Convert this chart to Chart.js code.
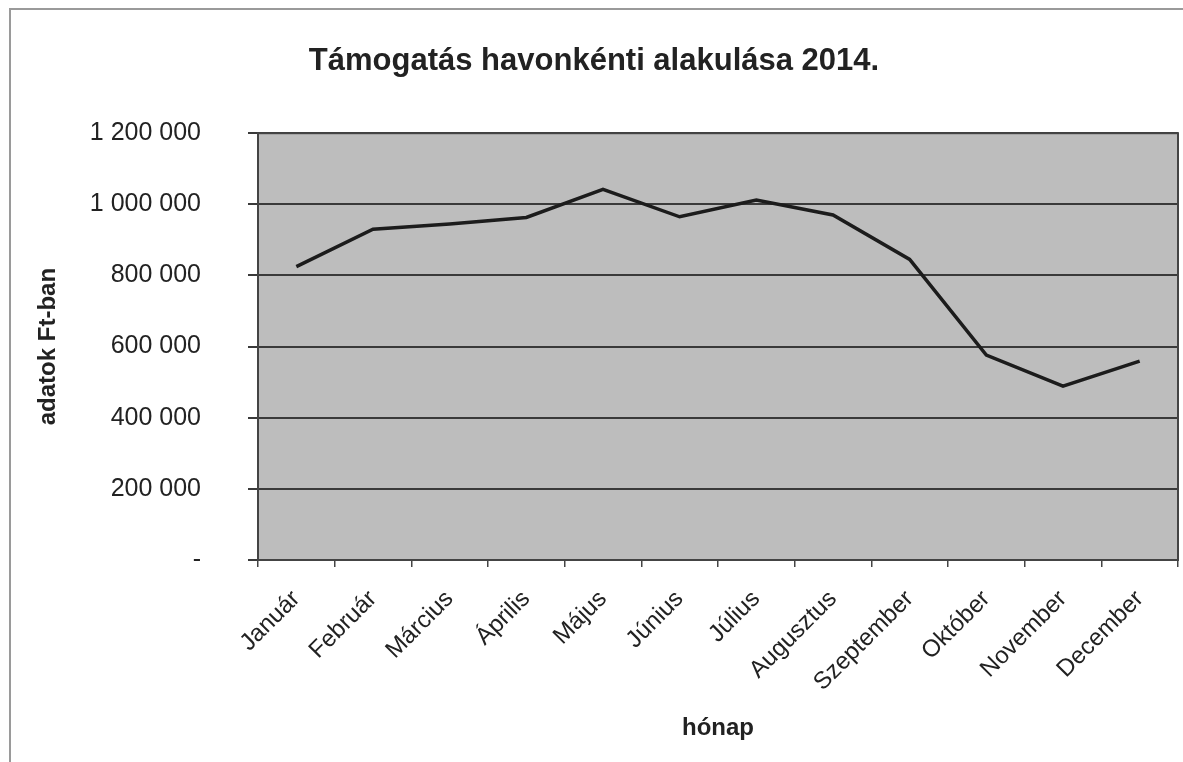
<!DOCTYPE html>
<html>
<head>
<meta charset="utf-8">
<script src="https://cdn.jsdelivr.net/npm/chart.js@4/dist/chart.umd.min.js"></script>
<style>
  html, body { margin: 0; padding: 0; background: #fff; }
  #wrap { position: relative; width: 1183px; height: 762px; }
  #frame { position: absolute; left: 9px; top: 8px; right: 0; bottom: 0;
           border-left: 2px solid #9a9a9a; border-top: 2px solid #9a9a9a; pointer-events: none; }
</style>
</head>
<body>
<div id="wrap">
  <canvas id="c" width="1183" height="762"></canvas>
  <div id="frame"></div>
</div>
<script>
// Támogatás havonként, 2014 (Ft)
const months = ['Január', 'Február', 'Március', 'Április', 'Május', 'Június',
                'Július', 'Augusztus', 'Szeptember', 'Október', 'November', 'December'];
const support = [825000, 930000, 945000, 963000, 1042000, 965000,
                 1012000, 970000, 845000, 576000, 489000, 559000];
const yMax = 1200000;
const yStep = 200000;

const FONT = '"Liberation Sans", Arial, sans-serif';
const ink = '#222';

// plot area: gray fill + dark frame, like the old Excel chart
const plotBg = {
  id: 'plotBg',
  beforeDraw(chart) {
    const { ctx, chartArea: a } = chart;
    ctx.save();
    ctx.fillStyle = '#bdbdbd';
    ctx.fillRect(a.left, a.top, a.right - a.left, a.bottom - a.top);
    ctx.restore();
  },
  afterDatasetsDraw(chart) {
    const { ctx, chartArea: a } = chart;
    ctx.save();
    ctx.strokeStyle = '#444';
    ctx.lineWidth = 2;
    ctx.strokeRect(a.left, a.top, a.right - a.left, a.bottom - a.top);
    ctx.restore();
  }
};

// thousands with spaces, zero shown as a dash
function fmt(v) {
  if (v === 0) return '-';
  return String(v).replace(/\B(?=(\d{3})+(?!\d))/g, ' ');
}

new Chart(document.getElementById('c'), {
  type: 'line',
  data: {
    labels: months,
    datasets: [{
      label: 'Támogatás',
      data: support,
      borderColor: '#1c1c1c',
      borderWidth: 3.5,
      pointRadius: 0,
      tension: 0,
      fill: false
    }]
  },
  plugins: [plotBg],
  options: {
    responsive: false,
    animation: false,
    layout: { padding: { left: 10, right: 5, top: 22, bottom: 0 } },
    plugins: {
      legend: { display: false },
      tooltip: { enabled: false },
      title: {
        display: true,
        text: 'Támogatás havonkénti alakulása 2014.',
        color: ink,
        font: { family: FONT, size: 31, weight: 'bold' },
        padding: { top: 21, bottom: 53 }
      }
    },
    scales: {
      x: {
        offset: true,
        grid: { display: true, offset: true, drawOnChartArea: false, color: '#444', lineWidth: 1.5, tickLength: 7 },
        border: { display: false },
        ticks: {
          color: ink,
          font: { family: FONT, size: 24 },
          minRotation: 45,
          maxRotation: 45,
          padding: 18,
          autoSkip: false
        },
        title: {
          display: true,
          text: 'hónap',
          color: ink,
          font: { family: FONT, size: 24, weight: 'bold' },
          padding: { top: 0, bottom: 19 }
        },
        afterFit(scale) { scale.height = 202; }
      },
      y: {
        min: 0,
        max: yMax,
        grid: { color: '#3a3a3a', lineWidth: 2, tickLength: 10 },
        border: { display: false },
        ticks: {
          stepSize: yStep,
          color: ink,
          font: { family: FONT, size: 25 },
          padding: 47,
          callback: v => fmt(v)
        },
        title: {
          display: true,
          text: 'adatok Ft-ban',
          color: ink,
          font: { family: FONT, size: 24, weight: 'bold' },
          padding: { top: 24, bottom: 0 }
        },
        afterFit(scale) { scale.width = 248; }
      }
    }
  }
});
</script>
</body>
</html>
